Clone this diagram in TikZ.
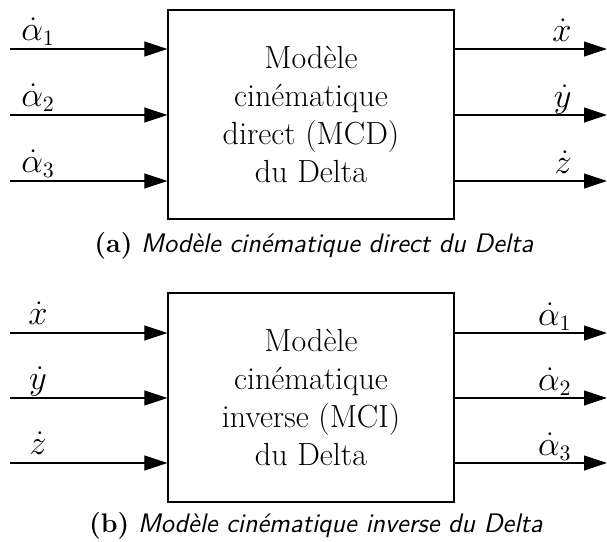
\documentclass[tikz,border=0pt]{standalone}
\usetikzlibrary{arrows.meta}
\tikzset{
  blk/.style={draw, line width=0.6pt, minimum width=143pt, minimum height=104.5pt, inner sep=0pt,
    align=center, font=\fontsize{16}{19}\selectfont},
  flow/.style={line width=0.6pt, -{Triangle[length=11.5pt,width=7.5pt]}},
  lbl/.style={font=\fontsize{16}{19}\selectfont, inner sep=0pt},
  captxt/.style={font=\fontsize{13.4}{16}\selectfont, inner sep=0pt}
}
\begin{document}
\begin{tikzpicture}[x=0.5pt,y=-0.5pt]
\useasboundingbox (0,0) rectangle (607,542);
% top
\node[blk] (b1) at (311,114.5) {Modèle\\cinématique\\direct (MCD)\\du Delta};
\foreach \i/\y/\l in {1/49/{\dot{\alpha}_1},2/115/{\dot{\alpha}_2},3/181/{\dot{\alpha}_3}}{
  \coordinate (l1\i) at (10,\y);
  \coordinate (e1\i) at (b1.west |- l1\i);
  \draw[flow] (l1\i) -- (e1\i);
  \node[lbl, anchor=base] (tl1\i) at (38,\y-9) {$\l$};
}
\foreach \i/\y/\l in {1/49/{\dot{x}},2/115/{\dot{y}},3/181/{\dot{z}}}{
  \coordinate (s1\i) at (b1.east |- 0,\y);
  \coordinate (r1\i) at (607,\y);
  \draw[flow] (s1\i) -- (r1\i);
  \node[lbl, anchor=base east] (tr1\i) at (572,\y-8) {$\l$};
}
\node[captxt, anchor=base] (c1) at (314,252) {\textbf{(a)} \textsf{\itshape Modèle cinématique direct du Delta}};
% bottom
\node[blk] (b2) at (311,397.5) {Modèle\\cinématique\\inverse (MCI)\\du Delta};
\foreach \i/\y/\l in {1/333/{\dot{x}},2/398/{\dot{y}},3/463/{\dot{z}}}{
  \coordinate (l2\i) at (10,\y);
  \coordinate (e2\i) at (b2.west |- l2\i);
  \draw[flow] (l2\i) -- (e2\i);
  \node[lbl, anchor=base] (tl2\i) at (38,\y-9) {$\l$};
}
\foreach \i/\y/\l in {1/333/{\dot{\alpha}_1},2/398/{\dot{\alpha}_2},3/463/{\dot{\alpha}_3}}{
  \coordinate (s2\i) at (b2.east |- 0,\y);
  \coordinate (r2\i) at (607,\y);
  \draw[flow] (s2\i) -- (r2\i);
  \node[lbl, anchor=base east] (tr2\i) at (572,\y-8) {$\l$};
}
\node[captxt, anchor=base] (c2) at (316,532) {\textbf{(b)} \textsf{\itshape Modèle cinématique inverse du Delta}};
\end{tikzpicture}
\end{document}
